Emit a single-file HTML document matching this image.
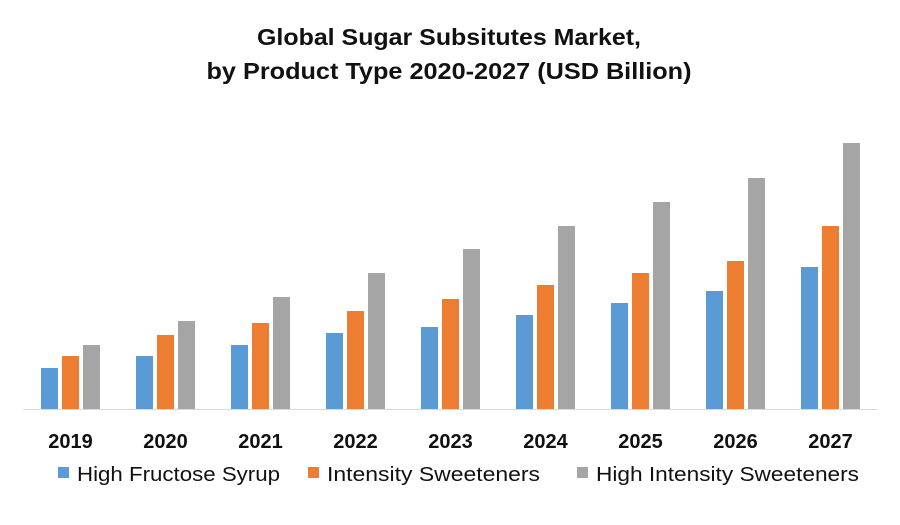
<!DOCTYPE html>
<html><head><meta charset="utf-8"><style>
body{margin:0;background:#fff;}
svg{display:block;font-family:"Liberation Sans",sans-serif;}
</style></head><body>
<svg id="chart" width="900" height="525" viewBox="0 0 900 525">
<text x="449" y="45" text-anchor="middle" font-size="23" font-weight="bold" fill="#111" textLength="384" lengthAdjust="spacingAndGlyphs">Global Sugar Subsitutes Market,</text>
<text x="449" y="79" text-anchor="middle" font-size="23" font-weight="bold" fill="#111" textLength="485" lengthAdjust="spacingAndGlyphs">by Product Type 2020-2027 (USD Billion)</text>
<line x1="23" y1="409.5" x2="878" y2="409.5" stroke="#d9d9d9" stroke-width="1"/>
<g id="bars"></g>
<g id="xlabels"></g>
<g id="legend"></g>
</svg>
<script>
const categories=["2019","2020","2021","2022","2023","2024","2025","2026","2027"];
const hfs=[41,53,64,76,82,94,106,118,142];
const intensity=[53,74,86,98,110,124,136,148,183];
const highIntensity=[64,88,112,136,160,183,207,231,266];
const seriesNames=["High Fructose Syrup","Intensity Sweeteners","High Intensity Sweeteners"];
const colors=["#5b9bd5","#ed7d31","#a5a5a5"];
const series=[hfs,intensity,highIntensity];
const NS="http://www.w3.org/2000/svg";
const base=409, scale=1, x0=70.5, step=95, bw=17, gap=4;
const xScale=i=>x0+i*step;
const yScale=v=>base-v*scale;
const bars=document.getElementById('bars');
const xl=document.getElementById('xlabels');
categories.forEach((c,i)=>{
  series.forEach((s,k)=>{
    const r=document.createElementNS(NS,'rect');
    const x=xScale(i)-bw*1.5-gap+k*(bw+gap);
    r.setAttribute('x',x);r.setAttribute('y',yScale(s[i]));
    r.setAttribute('width',bw);r.setAttribute('height',base-yScale(s[i]));
    r.setAttribute('fill',colors[k]);
    
    
    bars.appendChild(r);
  });
  const t=document.createElementNS(NS,'text');
  t.setAttribute('x',xScale(i));t.setAttribute('y',448);
  t.setAttribute('text-anchor','middle');t.setAttribute('font-size','20');
  t.setAttribute('font-weight','bold');t.setAttribute('fill','#111');
  t.textContent=c;
  
  
  xl.appendChild(t);
});
const lg=document.getElementById('legend');
const lx=[58,308,577];
const lw=[203,213,263];
seriesNames.forEach((n,k)=>{
  const r=document.createElementNS(NS,'rect');
  r.setAttribute('x',lx[k]);r.setAttribute('y',467);r.setAttribute('width',11);r.setAttribute('height',11);
  r.setAttribute('fill',colors[k]);
  
  
  lg.appendChild(r);
  const t=document.createElementNS(NS,'text');
  t.setAttribute('x',lx[k]+19);t.setAttribute('y',481);
  t.setAttribute('font-size','20');t.setAttribute('fill','#111');
  t.setAttribute('textLength',lw[k]);t.setAttribute('lengthAdjust','spacingAndGlyphs');
  t.textContent=n;
  
  
  lg.appendChild(t);
});
</script>
</body></html>
